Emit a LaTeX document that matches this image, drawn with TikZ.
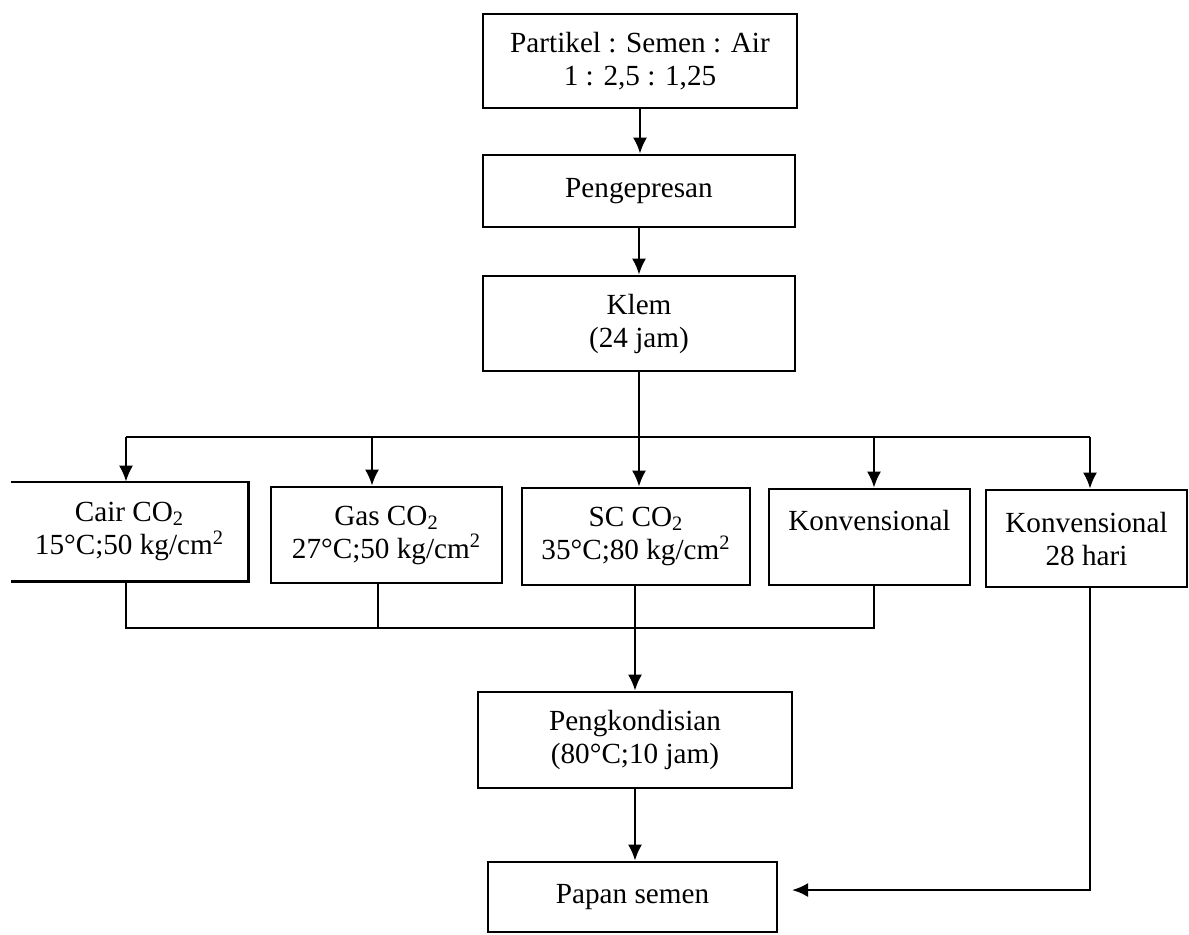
\documentclass[tikz,border=0pt]{standalone}
\usepackage{fontspec}
\setmainfont{Liberation Serif}
\usetikzlibrary{arrows.meta}
\begin{document}
\begin{tikzpicture}[x=0.5pt,y=-0.5pt,
  box/.style={draw, line width=1.3pt, inner sep=0pt, align=center, font=\fontsize{14.6}{16.5}\selectfont},
  arr/.style={line width=1.2pt, -{Latex[length=8pt,width=7pt]}},
  ln/.style={line width=1.2pt}]
\useasboundingbox (0,0) rectangle (1189,934);
\node[box, minimum width=157pt, minimum height=47pt] (top) at (640,61) {Partikel : Semen : Air\\1 : 2,5 : 1,25};
\node[box, minimum width=156pt, minimum height=36pt] (peng) at (639,191) {Pengepresan};
\node[box, minimum width=156pt, minimum height=47.5pt] (klem) at (639,323.5) {Klem\\(24 jam)};
\node[box, draw=none, minimum width=117.5pt, minimum height=48.5pt] (cair) at (129.5,531.5) {Cair CO\textsubscript{2}\\15°C;50 kg/cm\textsuperscript{2}};
\draw[line width=1.2pt] (cair.north west) -- (cair.north east) -- (cair.south east) -- (cair.south west);
\node[box, minimum width=115.5pt, minimum height=48pt] (gas) at (386.5,535) {Gas CO\textsubscript{2}\\27°C;50 kg/cm\textsuperscript{2}};
\node[box, minimum width=114pt, minimum height=48.5pt] (sc) at (636,536.5) {SC CO\textsubscript{2}\\35°C;80 kg/cm\textsuperscript{2}};
\node[box, minimum width=100.5pt, minimum height=48pt] (konv) at (869.5,537) {Konvensional\\\mbox{}};
\node[box, minimum width=100.5pt, minimum height=48.5pt] (konv28) at (1086.5,538.5) {Konvensional\\28 hari};
\node[box, minimum width=157pt, minimum height=48pt] (pk) at (635,740) {Pengkondisian\\(80°C;10 jam)};
\node[box, minimum width=144.5pt, minimum height=35pt] (papan) at (632.5,897) {Papan semen};
% coordinates of the distribution lines
\coordinate (j) at (639,437);
\coordinate (b1) at (126,437);
\coordinate (b2) at (372,437);
\coordinate (b3) at (639,437);
\coordinate (b4) at (874,437);
\coordinate (b5) at (1090,437);
\coordinate (c1) at (126,628);
\coordinate (c2) at (378,628);
\coordinate (c3) at (635,628);
\coordinate (c4) at (874,628);
\coordinate (r) at (1090,890);
\coordinate (rt) at (792,890);
% connectors
\draw[arr] (top.south) -- (top.south |- peng.north);
\draw[arr] (peng.south) -- (peng.south |- klem.north);
\draw[ln] (klem.south) -- (j);
\draw[ln] (b1) -- (b5);
\draw[arr] (b1) -- (b1 |- cair.north);
\draw[arr] (b2) -- (b2 |- gas.north);
\draw[arr] (b3) -- (b3 |- sc.north);
\draw[arr] (b4) -- (b4 |- konv.north);
\draw[arr] (b5) -- (b5 |- konv28.north);
\draw[ln] (c1 |- cair.south) -- (c1) -- (c4) -- (c4 |- konv.south);
\draw[ln] (c2 |- gas.south) -- (c2);
\draw[arr] (c3 |- sc.south) -- (c3 |- pk.north);
\draw[arr] (pk.south) -- (pk.south |- papan.north);
\draw[arr] (r |- konv28.south) -- (r) -- (rt);
\end{tikzpicture}
\end{document}
